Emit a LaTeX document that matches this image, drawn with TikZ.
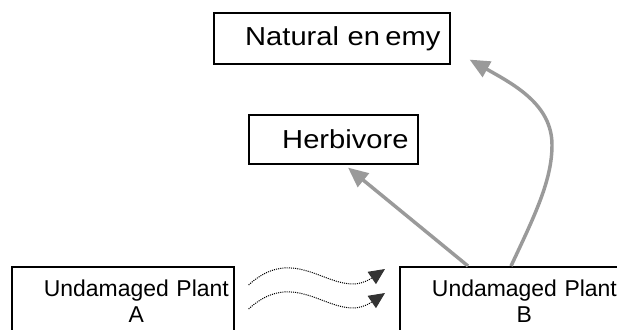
\documentclass[tikz,border=0pt]{standalone}
\usepackage{fontspec}
\setmainfont{Liberation Sans}
\newfontfamily\widesans[FakeStretch=1.12]{Liberation Sans}
\usetikzlibrary{arrows.meta, calc}
\definecolor{linkgray}{HTML}{9A9A9A}
\definecolor{signalgray}{HTML}{333333}

\begin{document}
\begin{tikzpicture}[
    x=0.75pt, y=-0.75pt,
    level/.style={draw, line width=1.2pt, anchor=north west, align=right, inner xsep=7pt, inner ysep=0pt, font=\widesans\fontsize{19.5}{22}\selectfont},
    plant/.style={draw, line width=1.2pt, anchor=north west, align=right, text width=159pt, inner xsep=3.75pt, inner ysep=0pt, minimum height=55.5pt, font=\fontsize{17.2}{19.5}\selectfont},
    feed/.style={-{Triangle[length=15pt, width=13pt]}, draw=linkgray, line width=2.6pt},
    signal/.style={-{Triangle[length=12pt, width=11pt, color=signalgray]}, draw=black, line width=0.75pt, dash pattern=on 0.8pt off 0.8pt}
]
    \useasboundingbox (0,0) rectangle (617,329);
    \clip (0,0) rectangle (617,329);

    % trophic levels
    \node[level, text width=163pt, minimum height=38.25pt] (enemy) at (213,12) {Natural en\hspace{4pt}emy};
    \node[level, text width=112.75pt, minimum height=36.75pt] (herb) at (248,114) {Herbivore};

    % plants (cut off at the bottom)
    \node[plant] (plantA) at (11,266) {\begin{tabular}{@{}c@{}}Undamaged Plant\\A\end{tabular}};
    \node[plant] (plantB) at (399,266) {\begin{tabular}{@{}c@{}}Undamaged Plant\\B\end{tabular}};

    % airborne cues
    \draw[signal] ($(plantA.north east)+(14,19)$) .. controls +(50,-46) and +(-50,34) .. ($(plantB.north west)+(-14,3)$);
    \draw[signal] ($(plantA.north east)+(14,43)$) .. controls +(50,-46) and +(-50,34) .. ($(plantB.north west)+(-14,27)$);

    % attraction
    \draw[feed] ($(plantB.north west)+(69,0)$) -- ($(herb.south west)+(100,3)$);
    \draw[feed] ($(plantB.north west)+(112,0)$) .. controls (535,215) and (552,180) .. (552,145)
        .. controls (552,105) and (515,85) .. ($(enemy.south east)+(19,-5)$);
\end{tikzpicture}
\end{document}
